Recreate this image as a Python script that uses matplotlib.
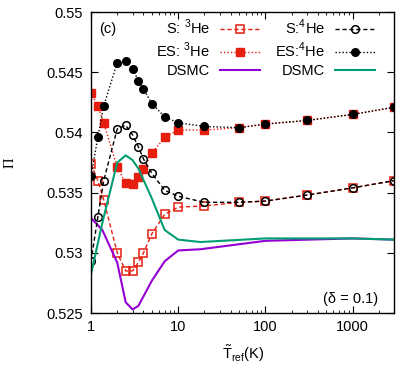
import matplotlib.pyplot as plt
from matplotlib.ticker import LogLocator, NullFormatter, FixedLocator

plt.rcParams['font.family'] = ['Liberation Sans', 'DejaVu Sans']
plt.rcParams['mathtext.fontset'] = 'custom'
plt.rcParams['mathtext.rm'] = 'Liberation Sans'
plt.rcParams['font.size'] = 10.5

# temperatures of the kinetic-model points
T_pts = [1, 1.2, 1.4, 2, 2.5, 3, 3.5, 4, 5, 7, 10, 20, 50, 100, 300, 1000, 3000]

s_he3 = [0.5374, 0.5360, 0.5344, 0.5300, 0.5285, 0.5285, 0.5292, 0.5300, 0.5316,
         0.5332, 0.5338, 0.5339, 0.5342, 0.5343, 0.5348, 0.5354, 0.5360]
es_he3 = [0.5433, 0.5422, 0.5408, 0.5371, 0.5358, 0.5357, 0.5363, 0.5370, 0.5383,
          0.5396, 0.5402, 0.5402, 0.5404, 0.5407, 0.5410, 0.5415, 0.5421]
s_he4 = [0.5293, 0.5330, 0.5360, 0.5403, 0.5406, 0.5398, 0.5388, 0.5378, 0.5366,
         0.5352, 0.5347, 0.5342, 0.5342, 0.5343, 0.5348, 0.5354, 0.5360]
es_he4 = [0.5364, 0.5396, 0.5422, 0.5458, 0.5459, 0.5453, 0.5443, 0.5436, 0.5424,
          0.5413, 0.5408, 0.5405, 0.5404, 0.5407, 0.5410, 0.5415, 0.5421]

# DSMC curves
T_dsmc = [1, 1.35, 2, 2.5, 3, 3.5, 5, 7, 10, 18, 100, 1000, 3000]
dsmc_he3 = [0.5329, 0.5319, 0.5292, 0.5259, 0.5253, 0.5256, 0.5277, 0.5293, 0.5302,
            0.5303, 0.5310, 0.5312, 0.5311]
dsmc_he4 = [0.5282, 0.5325, 0.5375, 0.5381, 0.5377, 0.5370, 0.5345, 0.5319, 0.5311,
            0.5309, 0.5312, 0.5312, 0.5311]

red = '#e51e10'
purple = '#9400d3'
green = '#009e73'

fig = plt.figure(figsize=(3.99, 3.67), dpi=100)
ax = fig.add_axes([0.228, 0.147, 0.76, 0.82])

ms = 5.5
ax.plot(T_pts, s_he3, ls=(0, (3, 2)), lw=1, color=red, marker='s', ms=ms,
        mfc='none', mec=red, mew=1.1, label='S: $^3$He')
ax.plot(T_pts, es_he3, ls=(0, (1, 1.5)), lw=1, color=red, marker='s', ms=ms,
        mfc=red, mec=red, label='ES: $^3$He')
ax.plot(T_dsmc, dsmc_he3, color=purple, lw=1.5, label='DSMC')
ax.plot(T_pts, s_he4, ls=(0, (3, 2)), lw=1, color='black', marker='o', ms=ms,
        mfc='none', mec='black', mew=1.1, label='S:$^4$He')
ax.plot(T_pts, es_he4, ls=(0, (1, 1.5)), lw=1, color='black', marker='o', ms=ms,
        mfc='black', mec='black', label='ES:$^4$He')
ax.plot(T_dsmc, dsmc_he4, color=green, lw=1.5, label='DSMC')

ax.set_xscale('log')
ax.set_xlim(1, 3000)
ax.set_ylim(0.525, 0.55)
ax.xaxis.set_major_locator(FixedLocator([1, 10, 100, 1000]))
ax.set_xticklabels(['1', '10', '100', '1000'])
ax.xaxis.set_minor_locator(LogLocator(subs=range(2, 10), numticks=20))
ax.xaxis.set_minor_formatter(NullFormatter())
ax.set_yticks([0.525, 0.53, 0.535, 0.54, 0.545, 0.55])
ax.set_yticklabels(['0.525', '0.53', '0.535', '0.54', '0.545', '0.55'])
ax.tick_params(which='both', direction='in', top=True, right=True, labelsize=10.5)
ax.tick_params(which='major', length=5, width=0.8)
ax.tick_params(axis='x', which='major', pad=5)
ax.tick_params(axis='y', which='major', pad=6)
ax.tick_params(which='minor', length=2.5, width=0.6)
for s in ax.spines.values():
    s.set_linewidth(1)

ax.set_xlabel(r'$\tilde{\mathrm{T}}_{\mathrm{ref}}$(K)', fontsize=10.5)
ax.xaxis.set_label_coords(0.5, -0.1)
ax.set_ylabel('Π', family=['Liberation Serif', 'DejaVu Serif'], fontsize=10.5)
ax.yaxis.set_label_coords(-0.245, 0.5)

ax.text(0.027, 0.943, '(c)', transform=ax.transAxes, ha='left', va='center')
ax.text(0.947, 0.047, '(δ = 0.1)', transform=ax.transAxes, ha='right', va='center')

ax.legend(ncol=2, loc='upper right', bbox_to_anchor=(0.956, 1.0), frameon=False,
          markerfirst=False, handlelength=2.75, handletextpad=0.7,
          columnspacing=1.0, labelspacing=0.25, fontsize=10.5, borderaxespad=0)

fig.savefig('out.png', dpi=100)
